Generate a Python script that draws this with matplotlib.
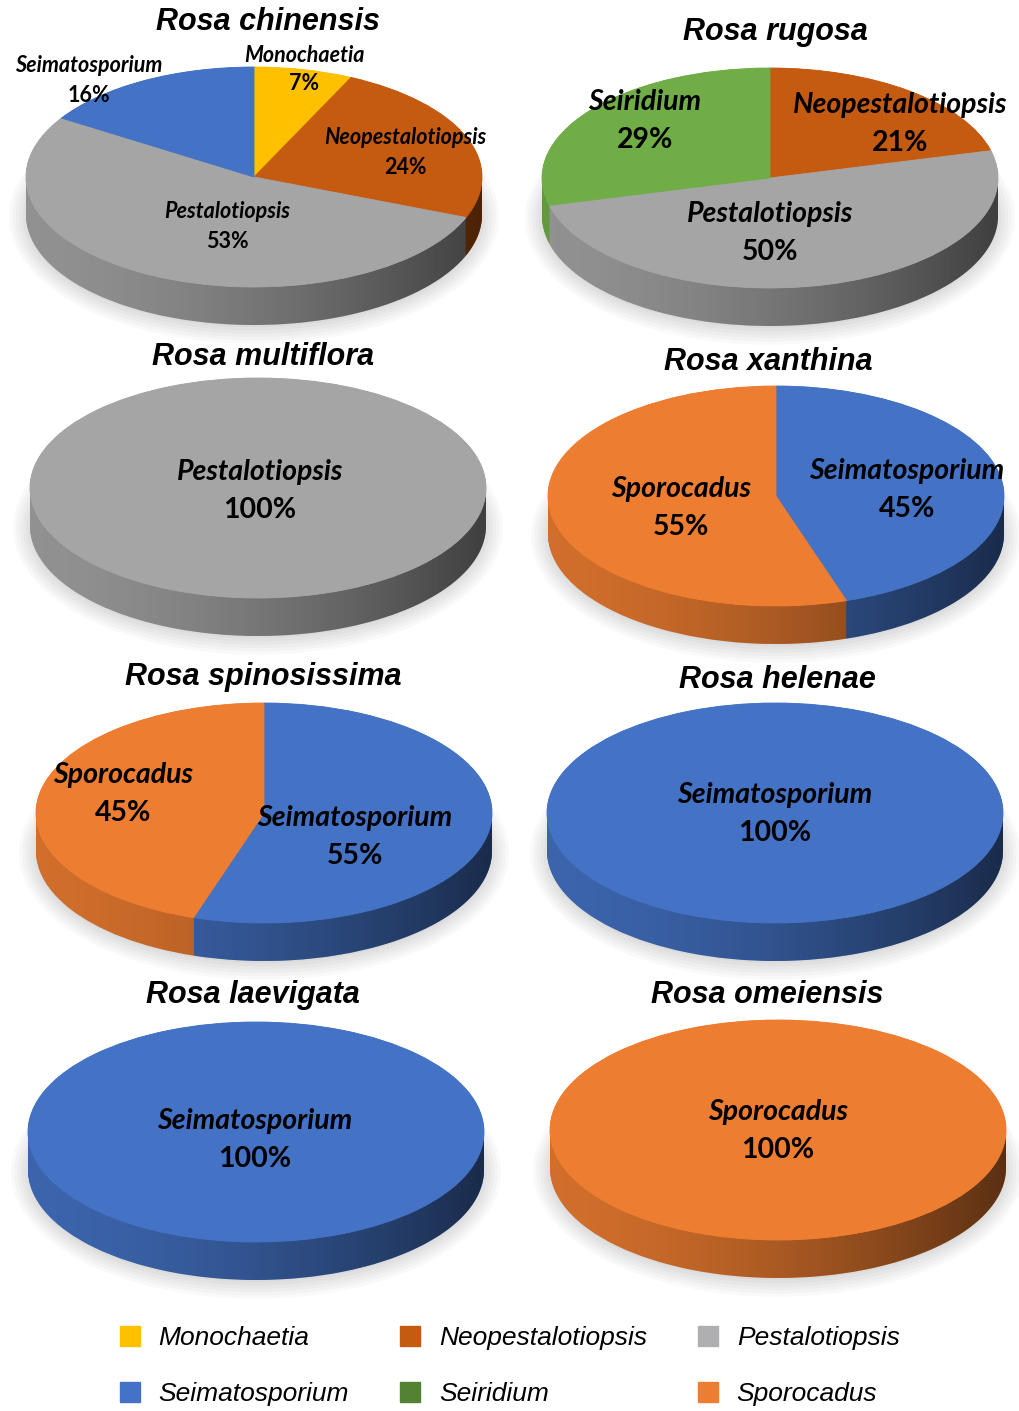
import matplotlib
matplotlib.use("Agg")
import matplotlib.pyplot as plt
import numpy as np
from matplotlib.lines import Line2D
from matplotlib.patches import Polygon, Ellipse

# genera and their colours
genera = ["Monochaetia", "Neopestalotiopsis", "Pestalotiopsis",
          "Seimatosporium", "Seiridium", "Sporocadus"]
pie_colors = ["#FFC000", "#C55A11", "#A5A5A5", "#4472C4", "#70AD47", "#ED7D31"]
legend_colors = ["#FFC000", "#C55A11", "#AFAFB2", "#4472C4", "#548235", "#ED7D31"]

# hosts, genera found on each host and their shares (%)
hosts = ["Rosa chinensis", "Rosa rugosa", "Rosa multiflora", "Rosa xanthina",
         "Rosa spinosissima", "Rosa helenae", "Rosa laevigata", "Rosa omeiensis"]
host_genera = [
    ["Monochaetia", "Neopestalotiopsis", "Pestalotiopsis", "Seimatosporium"],
    ["Neopestalotiopsis", "Pestalotiopsis", "Seiridium"],
    ["Pestalotiopsis"],
    ["Seimatosporium", "Sporocadus"],
    ["Seimatosporium", "Sporocadus"],
    ["Seimatosporium"],
    ["Seimatosporium"],
    ["Sporocadus"],
]
host_pcts = [
    [7, 24, 53, 16],
    [21, 50, 29],
    [100],
    [45, 55],
    [55, 45],
    [100],
    [100],
    [100],
]

# layout (pixels, top-down)
W, H = 1019, 1411
A, B, T = 228, 110, 38          # half width, half height, side thickness
centres = [(254, 177), (770, 178), (258, 488), (776, 496),
           (264, 813), (775, 813), (256, 1132), (778, 1130)]
title_pos = [(268, 22), (775, 32), (263, 357), (768, 362),
             (263, 677), (777, 680), (253, 995), (767, 995)]
# label positions (name line centre) for each wedge, same order as host_genera
label_pos = [
    [(304, 55), (405, 138), (227, 212), (89, 66)],
    [(900, 105), (770, 214), (645, 102)],
    [(260, 472)],
    [(907, 471), (681, 489)],
    [(355, 818), (123, 775)],
    [(775, 795)],
    [(255, 1121)],
    [(778, 1112)],
]

fig = plt.figure(figsize=(W / 100, H / 100), dpi=100)
fig.patch.set_facecolor("white")

label_font = "Lato"
M = 30
d = T / B

for i, host in enumerate(hosts):
    cx, cy = centres[i]
    left = (cx - A - M) / W
    top_px = cy - B - M
    bot_px = cy + B + T + M
    ax = fig.add_axes([left, 1 - bot_px / H, (2 * A + 2 * M) / W, (bot_px - top_px) / H])

    cols = [pie_colors[genera.index(g)] for g in host_genera[i]]
    vals = host_pcts[i]

    # soft shadow
    for k in range(6):
        ax.add_patch(Ellipse((0, -d - 0.02), 2.0 + 0.03 * k, 2.0 + 0.06 * k,
                             facecolor="black", alpha=0.022, linewidth=0, zorder=0))

    # side wall: stacked pies
    for z in np.linspace(-d, 0, 45):
        wedges, _ = ax.pie(vals, colors=cols, startangle=90, counterclock=False,
                           center=(0, z), radius=1, wedgeprops=dict(linewidth=0))
        for w in wedges:
            w.set_zorder(1)

    # horizontal shading of the side wall
    th = np.linspace(np.pi, 2 * np.pi, 200)
    band = np.concatenate([np.c_[np.cos(th), np.sin(th)],
                           np.c_[np.cos(th[::-1]), np.sin(th[::-1]) - d]])
    clip = Polygon(band, closed=True, transform=ax.transData, facecolor="none", edgecolor="none")
    ax.add_patch(clip)
    xs = np.linspace(0, 1, 300)
    grad = np.zeros((2, 300, 4))
    grad[..., 3] = 0.12 + 0.5 * xs ** 1.6
    im = ax.imshow(grad, extent=(-1, 1, -1 - d, 0), aspect="auto", zorder=2,
                   interpolation="bilinear")
    im.set_clip_path(clip)

    # top face
    wedges, _ = ax.pie(vals, colors=cols, startangle=90, counterclock=False,
                       center=(0, 0), radius=1, wedgeprops=dict(linewidth=0.6))
    for w in wedges:
        w.set_edgecolor(w.get_facecolor())
        w.set_zorder(3)

    ax.set_aspect("auto")
    ax.set_xlim(-(A + M) / A, (A + M) / A)
    ax.set_ylim(-(B + T + M) / B, (B + M) / B)
    ax.axis("off")

    # labels
    small = i == 0
    fs = 15.5 if small else 20.5
    gap = 29 if small else 38
    for g, p, (lx, ly) in zip(host_genera[i], vals, label_pos[i]):
        fig.text(lx / W, 1 - ly / H, g, ha="center", va="center", fontsize=fs,
                 fontweight="bold", fontstyle="italic", family=label_font, zorder=5)
        fig.text(lx / W, 1 - (ly + gap) / H, f"{p}%", ha="center", va="center",
                 fontsize=fs, fontweight="bold", family=label_font, zorder=5)

    tx, ty = title_pos[i]
    fig.text(tx / W, 1 - ty / H, host, ha="center", va="center", fontsize=22,
             fontweight="bold", fontstyle="italic", family="Liberation Sans")

# legend
order = [0, 3, 1, 4, 2, 5]
handles = [Line2D([], [], marker="s", linestyle="", markersize=14,
                  markerfacecolor=legend_colors[k], markeredgecolor=legend_colors[k])
           for k in order]
fig.legend(handles, [genera[k] for k in order], ncol=3, frameon=False,
           loc="center", bbox_to_anchor=(508 / W, 1 - 1366 / H),
           prop=dict(family="Liberation Sans", style="italic", size=19),
           handletextpad=0.6, columnspacing=1.8, labelspacing=1.2, handlelength=1.0)

fig.savefig("out.png", dpi=100)
